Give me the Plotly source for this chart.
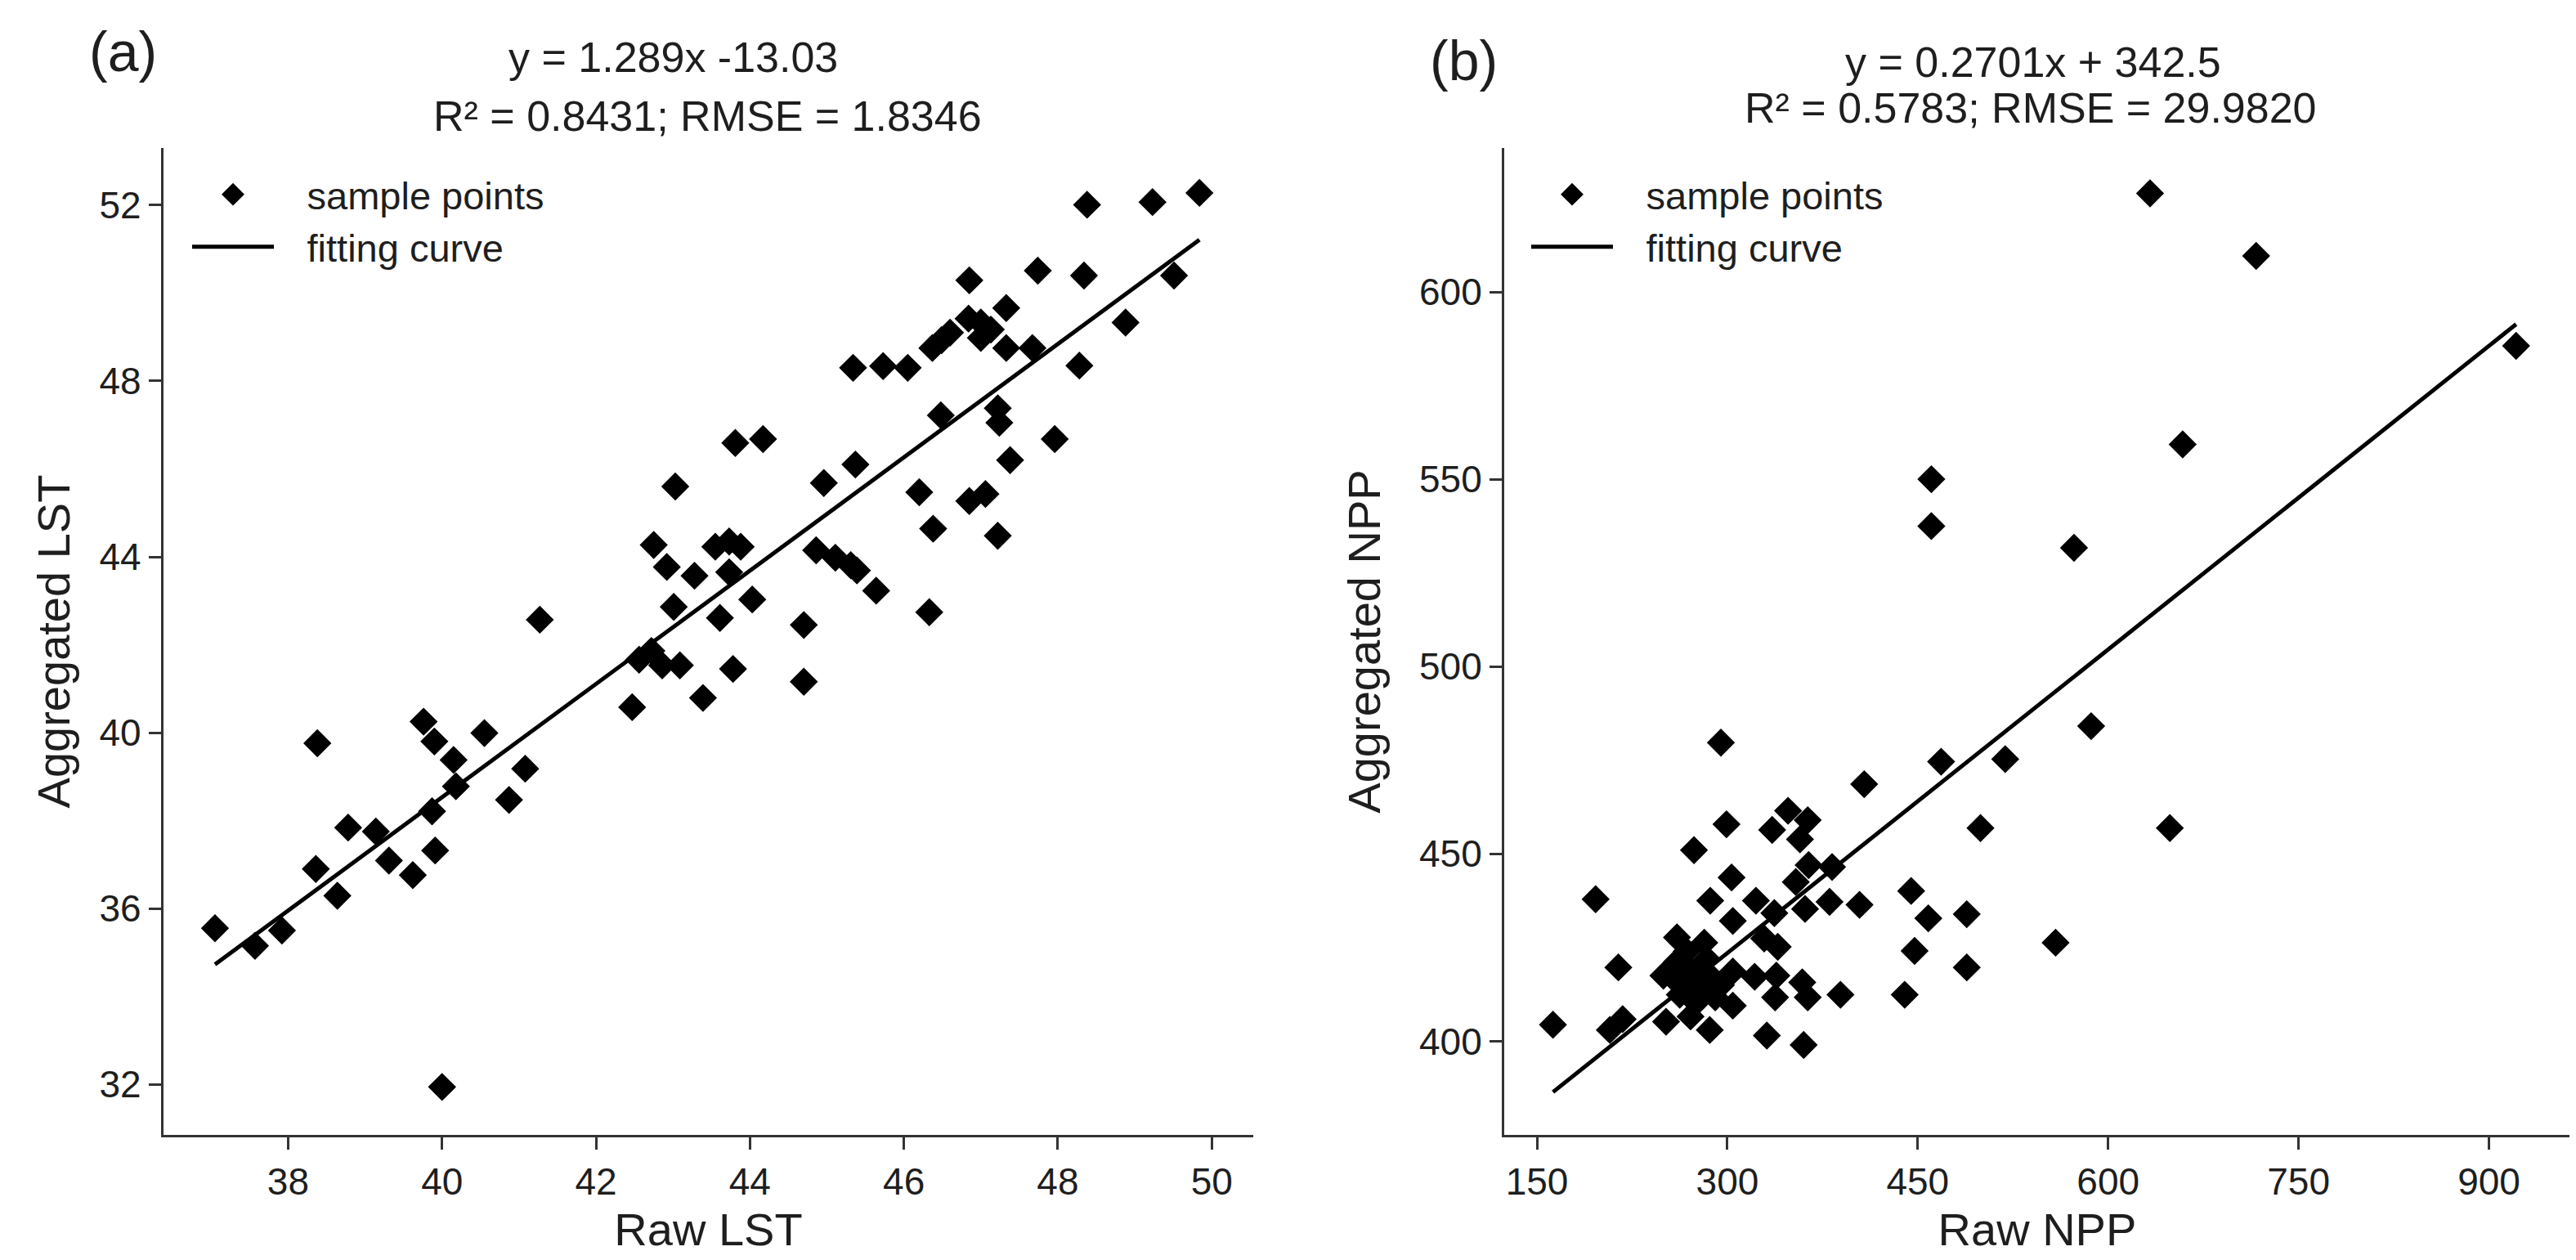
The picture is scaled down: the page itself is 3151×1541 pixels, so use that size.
import plotly.graph_objects as go

# ---- panel (a): LST ----
lst_raw = [37.05, 37.57, 37.92, 38.36, 38.64, 38.78, 39.14, 39.31, 39.62, 39.91,
           39.87, 40.18, 40.15, 39.90, 39.76, 40.55, 38.38, 41.08, 40.87, 40.00,
           41.27, 42.47, 43.39, 43.78, 44.70, 44.70, 43.61, 44.03, 43.01, 42.56,
           42.72, 42.86, 43.09, 42.75, 42.92, 43.28, 43.73, 43.55, 43.73, 43.88,
           43.03, 43.81, 44.17, 44.96, 45.37, 44.86, 45.11, 45.31, 45.39, 45.64,
           46.33, 46.20, 46.38, 46.85, 47.06, 47.22, 46.48, 47.22, 47.24, 47.38,
           47.96, 45.34, 45.73, 46.05, 46.37, 46.49, 46.60, 46.85, 46.84, 47.00,
           47.00, 47.13, 47.33, 47.33, 47.67, 47.74, 48.28, 48.34, 48.38, 48.88,
           49.23, 49.51, 49.84]
lst_agg = [35.55, 35.15, 35.50, 36.90, 36.29, 37.84, 37.75, 37.09, 36.76, 37.32,
           38.21, 38.78, 39.38, 39.80, 40.25, 39.99, 39.76, 39.18, 38.47, 31.94,
           42.57, 40.58, 40.79, 41.45, 41.16, 42.45, 42.61, 43.03, 42.86, 41.66,
           41.86, 41.53, 41.53, 44.27, 43.77, 43.57, 43.65, 44.23, 44.35, 44.23,
           45.60, 46.59, 46.68, 45.68, 46.10, 44.15, 43.98, 43.81, 43.69, 43.23,
           42.74, 45.47, 44.64, 45.27, 45.43, 44.48, 47.22, 47.38, 47.05, 46.20,
           46.68, 48.30, 48.34, 48.30, 48.75, 48.93, 49.10, 50.29, 49.42, 49.33,
           48.98, 49.17, 49.66, 48.75, 48.75, 50.51, 48.35, 50.40, 52.01, 49.33,
           52.07, 50.40, 52.28]
lst_slope, lst_intercept = 1.289, -13.03

# ---- panel (b): NPP ----
npp_raw = [162.6, 196.2, 214.1, 207.4, 217.5, 249.6, 251.7, 260.3, 260.3, 262.5,
           271.0, 271.0, 275.3, 281.8, 283.9, 288.2, 290.4, 286.1, 304.3, 304.3,
           304.3, 286.5, 273.7, 299.3, 294.9, 303.3, 322.5, 329.0, 337.0, 339.7,
           321.5, 338.6, 337.6, 359.0, 363.3, 389.1, 331.1, 360.1, 361.2, 380.5,
           404.1, 353.9, 364.0, 382.5, 335.3, 347.8, 363.3, 357.2, 407.8, 468.4,
           518.9, 586.6, 444.8, 458.3, 488.6, 447.5, 488.6, 439.7, 558.6, 499.4,
           648.6, 633.0, 716.6, 921.4, 658.7, 460.7, 460.7, 573.1, 257.0, 266.0,
           278.0, 295.0, 268.0]
npp_agg = [404.4, 437.9, 419.7, 403.0, 405.9, 417.5, 405.2, 427.7, 421.2, 412.4,
           419.0, 406.6, 410.3, 426.3, 421.9, 416.8, 411.7, 403.0, 409.5, 418.6,
           432.1, 437.5, 451.0, 457.9, 479.7, 443.7, 437.5, 427.4, 434.2, 425.2,
           417.2, 417.5, 411.7, 415.7, 411.7, 412.4, 401.5, 399.0, 435.3, 437.2,
           436.4, 442.5, 447.0, 446.5, 456.4, 461.5, 459.0, 453.9, 468.6, 474.6,
           475.3, 484.1, 440.1, 432.8, 433.9, 424.1, 419.7, 412.4, 426.3, 456.9,
           456.9, 626.3, 609.6, 585.6, 559.3, 550.0, 537.5, 531.7, 417.0, 415.0,
           414.0, 415.0, 424.0]
npp_slope, npp_intercept = 0.2701, 342.5

lst_ticks_x = [38, 40, 42, 44, 46, 48, 50]
lst_ticks_y = [32, 36, 40, 44, 48, 52]
npp_ticks_x = [150, 300, 450, 600, 750, 900]
npp_ticks_y = [400, 450, 500, 550, 600]

FONT = "Liberation Sans, Arial, sans-serif"
INK = "#1e1e1e"
GAP = "\u00a0\u00a0\u2009"  # small gap between legend symbol and label

fig = go.Figure()

def add_panel(xs, ys, slope, intercept, xa, ya, legend):
    # outline on the diamonds keeps the legend symbol closer to the plotted size
    fig.add_trace(go.Scatter(
        x=xs, y=ys, mode="markers", name=GAP + "sample points",
        xaxis=xa, yaxis=ya, legend=legend,
        marker=dict(symbol="diamond", size=21, color="black",
                    line=dict(width=5, color="black"))
    ))
    x0, x1 = min(xs), max(xs)
    fig.add_trace(go.Scatter(
        x=[x0, x1], y=[slope * x0 + intercept, slope * x1 + intercept],
        mode="lines", name=GAP + "fitting curve",
        xaxis=xa, yaxis=ya, legend=legend,
        line=dict(color="black", width=5)
    ))

add_panel(lst_raw, lst_agg, lst_slope, lst_intercept, "x", "y", "legend")
add_panel(npp_raw, npp_agg, npp_slope, npp_intercept, "x2", "y2", "legend2")

axis_common = dict(
    showline=True, linecolor="#333333", linewidth=3,
    ticks="outside", ticklen=15, tickwidth=2.5, tickcolor="#333333",
    showgrid=False, zeroline=False,
    tickfont=dict(family=FONT, size=46, color=INK),
)

ydom = [0.1045, 0.8877]
legend_style = dict(xanchor="left", yanchor="top", itemwidth=100,
                    bgcolor="rgba(0,0,0,0)", font=dict(size=47, family=FONT, color=INK),
                    tracegroupgap=0)

fig.update_layout(
    width=3151, height=1541,
    autosize=False,
    paper_bgcolor="white", plot_bgcolor="white",
    margin=dict(l=0, r=0, t=0, b=0),
    font=dict(family=FONT, color=INK),
    xaxis=dict(domain=[0.0609, 0.4840], range=[36.38, 50.54], tickvals=lst_ticks_x,
               title=dict(text="Raw LST", font=dict(size=56, family=FONT, color=INK), standoff=14),
               **axis_common),
    yaxis=dict(domain=ydom, range=[30.85, 53.3], tickvals=lst_ticks_y,
               title=dict(text="Aggregated LST", font=dict(size=56, family=FONT, color=INK), standoff=18),
               **axis_common),
    xaxis2=dict(domain=[0.5814, 0.9952], range=[124.2, 964], tickvals=npp_ticks_x,
                anchor="y2",
                title=dict(text="Raw NPP", font=dict(size=56, family=FONT, color=INK), standoff=14),
                **axis_common),
    yaxis2=dict(domain=ydom, range=[375, 638.4], tickvals=npp_ticks_y,
                anchor="x2",
                title=dict(text="Aggregated NPP", font=dict(size=56, family=FONT, color=INK), standoff=30),
                **axis_common),
    legend=dict(x=222 / 3151, y=0.875, **legend_style),
    legend2=dict(x=1860 / 3151, y=0.875, **legend_style),
    showlegend=True,
)

notes = [
    ("(a)", 142, 55, 68),
    ("y = 1.289x -13.03", 815, 62, 52),
    ("R² = 0.8431; RMSE = 1.8346", 857, 134, 52),
    ("(b)", 1782, 66, 68),
    ("y = 0.2701x + 342.5", 2479, 68, 52),
    ("R² = 0.5783; RMSE = 29.9820", 2476, 124, 52),
]
for text, px, py, size in notes:
    fig.add_annotation(
        text=text, xref="paper", yref="paper",
        x=px / 3151, y=1 - py / 1541, xanchor="center", yanchor="middle",
        showarrow=False, font=dict(family=FONT, size=size, color=INK)
    )

fig.write_html("out.html")
